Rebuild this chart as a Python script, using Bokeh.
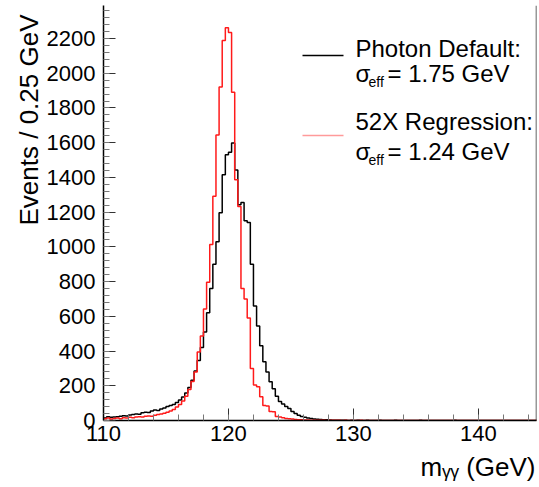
import numpy as np
from bokeh.plotting import figure
from bokeh.models import Range1d, Label, BoxAnnotation, Span, SingleIntervalTicker, Title
from bokeh.embed import file_html
from bokeh.resources import INLINE

# ---------------- data ----------------
bin_start = 110.0
bin_width = 0.25   # GeV per bin
x_min, x_max = 110.0, 144.65
y_min, y_max = 0.0, 2390.0

photon_default = [
    15, 22, 18, 20, 22, 24, 28, 26, 32, 35,
    38, 36, 44, 48, 46, 55, 60, 58, 66, 72,
    80, 86, 92, 104, 118, 136, 158, 190, 232, 285,
    345, 420, 510, 620, 760, 900, 1030, 1197, 1415, 1530,
    1545, 1598, 1443, 1243, 1255, 1150, 1140, 900, 660, 544,
    430, 338, 280, 223, 183, 140, 109, 95, 80, 69,
    52, 40, 30, 23, 18, 14, 11, 9, 7, 6,
    5, 4, 3, 2, 2, 1, 1, 1, 0, 1,
    0, 1, 0, 0, 1, 0, 0, 0, 1, 0,
    0, 0, 0, 1, 0, 0, 0, 0, 0, 0,
    0, 1, 0, 0, 0, 0, 0, 0, 0, 0,
    0, 0, 1, 0, 0, 0, 0, 0, 0, 0,
    0, 0, 0, 0, 0, 0, 0, 0, 0, 0,
    0, 0, 0, 0, 0, 0, 0, 0, 0, 0,
]

regression_52x = [
    10, 14, 8, 12, 15, 10, 16, 14, 18, 16,
    20, 22, 20, 24, 26, 25, 30, 34, 38, 42,
    48, 55, 64, 78, 92, 112, 140, 178, 225, 280,
    395, 487, 642, 796, 1014, 1291, 1644, 1921, 2188, 2262,
    2235, 1890, 1386, 1232, 760, 700, 590, 300, 205, 195,
    137, 86, 84, 52, 50, 23, 20, 16, 12, 10,
    8, 6, 5, 4, 3, 3, 2, 2, 1, 1,
    1, 0, 1, 2, 1, 1, 0, 1, 0, 0,
    0, 0, 1, 0, 0, 0, 0, 0, 0, 0,
    0, 0, 0, 0, 0, 0, 0, 0, 0, 0,
    0, 0, 0, 0, 0, 0, 0, 0, 0, 0,
    0, 0, 0, 0, 0, 0, 0, 0, 0, 0,
    0, 0, 0, 0, 0, 0, 0, 0, 0, 0,
    0, 0, 0, 0, 0, 0, 0, 0, 0, 0,
]

series_names = ["Photon Default:", "52X Regression:"]
sigma_eff_values = ["1.75", "1.24"]
series_colors = ["black", "#ff1a1a"]
legend_line_colors = ["black", "#ff9a9a"]

x_title = "m\u1d67\u1d67 (GeV)"
y_title = "Events / 0.25 GeV"

x_major_step = 10
y_major_step = 200

FONT = "Liberation Sans"

# ---------------- figure ----------------
p = figure(width=539, height=487, output_backend="svg", toolbar_location=None,
           x_range=Range1d(x_min, x_max), y_range=Range1d(y_min, y_max),
           min_border_left=103, min_border_right=3, min_border_top=5,
           min_border_bottom=65, background_fill_color="white",
           border_fill_color="white")
p.xgrid.visible = False
p.ygrid.visible = False
p.outline_line_color = None

for ax, step in ((p.xaxis[0], x_major_step), (p.yaxis[0], y_major_step)):
    ax.ticker = SingleIntervalTicker(interval=step, num_minor_ticks=5)
    ax.axis_line_color = "black"
    ax.axis_line_width = 1.5
    ax.major_tick_in = 12
    ax.major_tick_out = 0
    ax.minor_tick_in = 6
    ax.minor_tick_out = 0
    ax.major_tick_line_color = "#333333"
    ax.minor_tick_line_color = "#777777"
    ax.major_label_text_font = FONT
    ax.major_label_text_font_size = "22px"
    ax.major_label_text_color = "black"
p.xaxis[0].major_label_standoff = 5
p.yaxis[0].major_label_standoff = 8

# axis titles (ROOT style: aligned to the end of each axis)
p.add_layout(Title(text=y_title, align="right", text_font=FONT, text_font_size="26px",
                   text_font_style="normal", text_color="black", standoff=0, offset=9), "left")
p.add_layout(Title(text=x_title, align="right", text_font=FONT, text_font_size="26px",
                   text_font_style="normal", text_color="black", standoff=12, offset=1), "below")

# right frame line
p.add_layout(Span(location=x_max, dimension="height", line_color="#333333", line_width=1.5))

# ---------------- histograms ----------------
n = len(photon_default)
edges = bin_start + bin_width * np.arange(n + 1)
for vals, col in ((photon_default, series_colors[0]), (regression_52x, series_colors[1])):
    p.step(x=edges, y=list(vals) + [vals[-1]], mode="after", line_color=col, line_width=1.5)

# ---------------- legend (frame-relative screen coords) ----------------
FL, FB = 103, 422  # frame left / bottom in canvas px


def fx(cx):
    return cx - FL


def fy(cy):
    return FB - cy


def lab(text, cx, cy, size, **kw):
    p.add_layout(Label(x=fx(cx), y=fy(cy), x_units="screen", y_units="screen", text=text,
                       text_font=FONT, text_font_size=size, text_color="black", **kw))


legend_rows = [(50, 57, 75), (123, 137, 153)]
for (name, sig, lcol, (ty, ly, sy)) in zip(series_names, sigma_eff_values, legend_line_colors, legend_rows):
    lab(name, 355, ty, "24px", text_align="left", text_baseline="alphabetic")
    lab("σ", 355, sy, "24px", text_align="left", text_baseline="alphabetic")
    lab("eff", 368, sy + 8, "14px", text_align="left", text_baseline="alphabetic")
    lab("= " + sig + " GeV", 387, sy, "24px", text_align="left", text_baseline="alphabetic")
    p.add_layout(BoxAnnotation(left=fx(302), right=fx(343), bottom=fy(ly) - 0.8, top=fy(ly) + 0.8,
                               left_units="screen", right_units="screen",
                               bottom_units="screen", top_units="screen",
                               fill_color=lcol, fill_alpha=1.0, line_alpha=0.0))

open("out.html", "w").write(file_html(p, INLINE))
